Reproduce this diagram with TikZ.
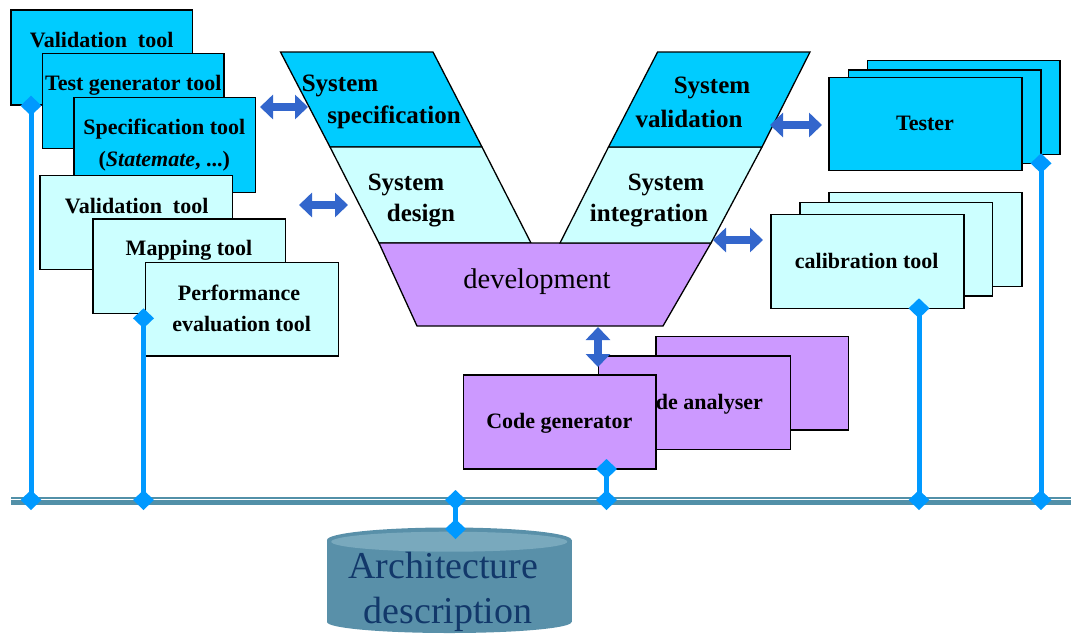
\documentclass[tikz,border=0pt]{standalone}
\usepackage{fontspec}
\setmainfont{Liberation Serif}
\usetikzlibrary{arrows.meta,shapes.geometric,fit}
\definecolor{cyD}{HTML}{00CCFF}
\definecolor{cyL}{HTML}{CCFFFF}
\definecolor{purp}{HTML}{CC99FF}
\definecolor{arrB}{HTML}{3366CC}
\definecolor{dmB}{HTML}{0099FF}
\definecolor{busC}{HTML}{5290A8}
\definecolor{cylC}{HTML}{5990A9}
\definecolor{cylT}{HTML}{79A9BD}
\definecolor{navy}{HTML}{12386A}
\begin{document}
\begin{tikzpicture}[x=1pt,y=-1pt,
  bx/.style={draw=black, line width=1.3pt, inner sep=0pt, outer sep=0pt, rectangle},
  dbox/.style={bx, fill=cyD},
  lbox/.style={bx, fill=cyL},
  pbox/.style={bx, fill=purp},
  vshape/.style={draw=black, line width=1.3pt, line join=miter},
  tooltxt/.style={font=\bfseries\fontsize{22}{27}\selectfont, inner sep=0pt, align=center},
  vtxt/.style={font=\bfseries\fontsize{25}{30}\selectfont, inner sep=0pt},
  dbl/.style={arrB, line width=8pt, {Triangle[width=24pt,length=13pt]}-{Triangle[width=24pt,length=13pt]}},
  vline/.style={dmB, line width=5pt},
  dmd/.style={fill=dmB},
  busline/.style={busC}
]
\useasboundingbox (0,0) rectangle (1071,633);

% ---------- V model ----------
\filldraw[vshape, fill=cyD] (280.5,52) -- (433,52) -- (482,147) -- (330,147) -- cycle;
\filldraw[vshape, fill=cyL] (330,147) -- (482,147) -- (531,243) -- (379,243) -- cycle;
\filldraw[vshape, fill=purp] (379,243) -- (711,243) -- (663,326) -- (417,326) -- cycle;
\filldraw[vshape, fill=cyL] (608.5,147) -- (762,147) -- (711,243) -- (560,243) -- cycle;
\filldraw[vshape, fill=cyD] (657.6,52) -- (810,52) -- (762,147) -- (608.5,147) -- cycle;

\node[vtxt] (ss1) at (340,86) {System};
\node[vtxt] (ss2) at (394,117) {specification};
\node[vtxt] (sd1) at (406,185) {System};
\node[vtxt] (sd2) at (421,216) {design};
\node[vtxt] (sv1) at (712,88) {System};
\node[vtxt] (sv2) at (689,119) {validation};
\node[vtxt] (si1) at (666,185) {System};
\node[vtxt] (si2) at (649,216) {integration};
\node[font=\fontsize{28.5}{34}\selectfont, inner sep=0pt] (dev) at (537,282) {development};

% ---------- left tools ----------
\node[dbox, fit={(11,10) (192.7,105)}] (val1) {};
\node[tooltxt] (val1t) at (101.7,40) {Validation\ \ tool};
\node[dbox, fit={(42.7,53.3) (224,148.3)}] (tgen) {};
\node[tooltxt] (tgent) at (133.3,85) {Test generator tool};
\node[dbox, fit={(74,97.7) (255.7,192.7)}] (spec) {};
\node[tooltxt] (spect) at (164.3,129.5) {Specification tool};
\node[tooltxt] (spect2) at (164.3,161) {(\textit{Statemate}, ...)};
\node[lbox, fit={(40,175.7) (232.7,269.3)}] (val2) {};
\node[tooltxt] (val2t) at (136.7,206) {Validation\ \ tool};
\node[lbox, fit={(93,219) (285.7,313.3)}] (map) {};
\node[tooltxt] (mapt) at (189,250) {Mapping tool};
\node[lbox, fit={(145.7,262.3) (338.3,356)}] (perf) {};
\node[tooltxt] (perft) at (239,293) {Performance};
\node[tooltxt] (perft2) at (241.7,323.5) {evaluation tool};

% ---------- Tester stack ----------
\node[dbox, fit={(867.3,60.7) (1060,154.3)}] (tes3) {};
\node[dbox, fit={(848.3,70) (1041,163.3)}] (tes2) {};
\node[dbox, fit={(829,77.3) (1022,170.7)}] (tes1) {};
\node[tooltxt] (test) at (925,123) {Tester};

% ---------- calibration stack ----------
\node[lbox, fit={(829,192.7) (1022,286.7)}] (cal3) {};
\node[lbox, fit={(800,202.7) (992.7,296)}] (cal2) {};
\node[lbox, fit={(771,214.3) (964,308.3)}] (cal1) {};
\node[tooltxt] (calt) at (866.7,261) {calibration tool};

% ---------- code stack ----------
\node[pbox, fit={(656,336.7) (848.3,430)}] (cod3) {};
\node[pbox, fit={(598.3,356) (790.7,449.3)}] (cod2) {};
\node[tooltxt] (cod2t) at (696,404) {Code analyser};
\node[pbox, fit={(463.3,375) (656,469)}] (cod1) {};
\node[tooltxt] (cod1t) at (559.3,423) {Code generator};

% ---------- double arrows ----------
\coordinate (a1l) at (260,107);  \coordinate (a1r) at (308,107);
\coordinate (a2l) at (299,205);  \coordinate (a2r) at (348,205);
\coordinate (a3l) at (770,125);  \coordinate (a3r) at (822,125);
\coordinate (a4l) at (713,240);  \coordinate (a4r) at (763,240);
\coordinate (a5t) at (598,327);  \coordinate (a5b) at (598,367);
\draw[dbl] (a1l) -- (a1r);
\draw[dbl] (a2l) -- (a2r);
\draw[dbl] (a3l) -- (a3r);
\draw[dbl] (a4l) -- (a4r);
\draw[dbl] (a5t) -- (a5b);

% ---------- architecture cylinder ----------
\fill[cylC] (327,540) rectangle (571.5,622);
\fill[cylC] (449.25,622) ellipse [x radius=122.25, y radius=11];
\fill[cylC] (449.25,540) ellipse [x radius=122.25, y radius=12.5];
\fill[cylT] (449.25,541.7) ellipse [x radius=118, y radius=10];
\node[font=\fontsize{38}{45}\selectfont, text=navy, inner sep=0pt, anchor=base] (arch1) at (443.5,578) {Architecture};
\node[font=\fontsize{38}{45}\selectfont, text=navy, inner sep=0pt, anchor=base] (arch2) at (448,623) {description};

% ---------- bus connectors ----------
\coordinate (t1) at (31,105.7);   \coordinate (b1) at (31,500);
\coordinate (t2) at (143.5,318.3); \coordinate (b2) at (143.5,500);
\coordinate (t3) at (455.5,529);  \coordinate (b3) at (455.5,500);
\coordinate (t4) at (606.5,469);  \coordinate (b4) at (606.5,500);
\coordinate (t5) at (919,308.3);  \coordinate (b5) at (919,500);
\coordinate (t6) at (1041,163.3); \coordinate (b6) at (1041,500);
\foreach \i in {1,...,6} { \draw[vline] (t\i) -- (b\i); }

\coordinate (busL1) at (11,497.7); \coordinate (busR1) at (1071,497.7);
\coordinate (busL2) at (11,502.5); \coordinate (busR2) at (1071,502.5);
\draw[busline, line width=2pt] (busL1) -- (busR1);
\draw[busline, line width=5pt] (busL2) -- (busR2);

\foreach \i in {1,...,6} {
  \fill[dmd] (t\i) +(-10.5,0) -- +(0,-10) -- +(10.5,0) -- +(0,10) -- cycle;
  \fill[dmd] (b\i) +(-10.5,0) -- +(0,-10) -- +(10.5,0) -- +(0,10) -- cycle;
}
\end{tikzpicture}
\end{document}
